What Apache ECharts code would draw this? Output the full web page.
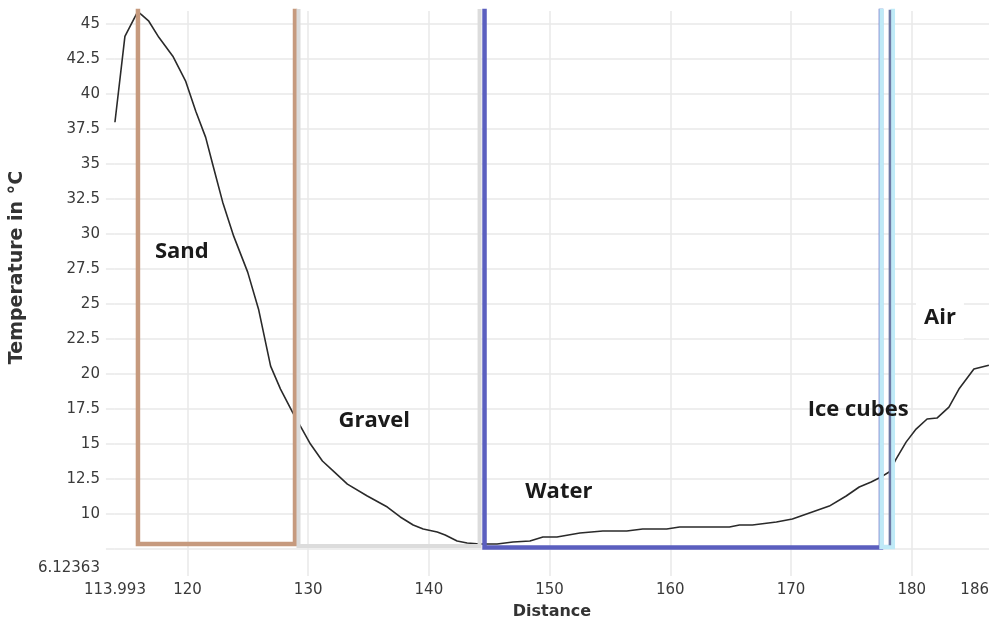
<!DOCTYPE html>
<html><head><meta charset="utf-8">
<script src="https://cdn.jsdelivr.net/npm/echarts@6/dist/echarts.min.js"></script>
<style>html,body{margin:0;padding:0;background:#fff}#c{width:992px;height:625px}</style>
</head><body><div id="c"></div>
<script>
// Temperature profile
const distance = [113.993,114.82,115.89,116.14,116.80,117.63,118.79,119.86,120.69,121.51,122.09,122.92,123.83,124.99,125.89,126.89,127.71,128.70,129.45,130.19,131.18,132.09,133.25,134.90,136.56,137.63,138.70,139.53,140.69,141.35,142.34,143.17,144.24,145.65,146.97,148.37,149.45,150.61,152.51,154.41,156.39,157.71,159.70,160.77,163.0,164.9,165.73,166.8,168.79,170.11,171.76,173.17,174.57,175.65,176.64,177.30,178.13,178.70,179.53,180.36,181.27,182.09,183.08,183.91,185.15,186.39];
const temperature = [37.98,44.12,45.91,45.7,45.2,44.05,42.7,40.9,38.77,36.9,34.98,32.27,29.84,27.27,24.62,20.55,18.91,17.27,16.12,14.98,13.77,13.05,12.12,11.27,10.48,9.77,9.2,8.91,8.70,8.48,8.05,7.91,7.84,7.84,7.98,8.05,8.34,8.34,8.62,8.77,8.77,8.91,8.91,9.05,9.05,9.05,9.2,9.2,9.41,9.62,10.12,10.55,11.27,11.91,12.27,12.55,12.98,13.91,15.12,16.05,16.77,16.84,17.62,18.91,20.34,20.62];

// Material regions
const regionNames = ['Sand','Gravel','Water','Ice cubes','Air'];
const regionStart = [115.9, 129.2, 144.61, 177.5, 178.19];
const regionEnd   = [128.91, 144.2, 177.45, 178.43, null];
const regionBase  = [7.84, 7.70, 7.59, 7.62, 7.75];
const regionColors = ['#c69a7e','#dcdcdc','#5b5fbf','#bfeaf7','#6f7aa6'];
const regionWidths = [4.5, 4, 4.5, 4.5, 2.5];

// Region labels
const labelX = [119.53, 135.48, 150.77, 175.56, 182.34];
const labelY = [28.7, 16.62, 11.55, 17.41, 23.98];

// Axes
const xMin = 113.993, xMax = 186.4;
const yMin = 6.12363, yMax = 45.93;
const xTickValues = [120,130,140,150,160,170,180];
const xLabelValues = [113.993,120,130,140,150,160,170,180,186.4];
const xLabelTexts = ['113.993','120','130','140','150','160','170','180','186'];
const yTickValues = [7.5,10,12.5,15,17.5,20,22.5,25,27.5,30,32.5,35,37.5,40,42.5,45];
const yLabelValues = [6.12363,10,12.5,15,17.5,20,22.5,25,27.5,30,32.5,35,37.5,40,42.5,45];
const yLabelTexts = ['6.12363','10','12.5','15','17.5','20','22.5','25','27.5','30','32.5','35','37.5','40','42.5','45'];

const gridColor = '#e9e9e9';
const chart = echarts.init(document.getElementById('c'), null, {renderer: 'canvas'});

const regionTop = yMax + 20;
const regionSeries = regionNames.map((n, i) => {
  const pts = [[regionStart[i], regionTop], [regionStart[i], regionBase[i]]];
  if (regionEnd[i] !== null) {
    pts.push([regionEnd[i], regionBase[i]]);
    pts.push([regionEnd[i], regionTop]);
  }
  return {
    type: 'line', name: n, data: pts, symbol: 'none', silent: true,
    lineStyle: {color: regionColors[i], width: regionWidths[i], cap: 'butt', join: 'miter'},
    z: 3 + i
  };
});

const labelData = regionNames.map((n, i) => ({
  name: n, value: [labelX[i], labelY[i]],
  label: n === 'Air' ? {backgroundColor: '#fff', padding: [10, 8]} : {}
}));

chart.setOption({
  animation: false,
  backgroundColor: '#fff',
  grid: {left: 114, right: 2, top: 11, bottom: 56, containLabel: false},
  xAxis: {
    type: 'value', min: xMin, max: xMax,
    name: 'Distance', nameLocation: 'middle', nameGap: 36,
    nameTextStyle: {fontFamily: 'DejaVu Sans', fontWeight: 'bold', fontSize: 16, color: '#333'},
    axisLine: {show: false},
    axisTick: {show: true, length: 8, customValues: xTickValues, lineStyle: {color: gridColor, width: 1.5}},
    axisLabel: {
      customValues: xLabelValues, margin: 15, alignMaxLabel: 'right',
      fontFamily: 'DejaVu Sans', fontSize: 15, color: '#3a3a3a',
      formatter: v => { const k = xLabelValues.indexOf(v); return k >= 0 ? xLabelTexts[k] : ''; }
    },
    splitLine: {show: true, lineStyle: {color: gridColor, width: 1.5}}
  },
  yAxis: {
    type: 'value', min: yMin, max: yMax,
    name: 'Temperature in °C', nameLocation: 'middle', nameGap: 85,
    nameTextStyle: {fontFamily: 'DejaVu Sans', fontWeight: 'bold', fontSize: 19, color: '#333', padding: [0, 0, 0, 44]},
    axisLine: {show: false},
    axisTick: {show: true, length: 9, customValues: yTickValues, lineStyle: {color: gridColor, width: 1.5}},
    axisLabel: {
      customValues: yLabelValues, margin: 15,
      fontFamily: 'DejaVu Sans', fontSize: 15, color: '#3a3a3a',
      formatter: v => { const k = yLabelValues.indexOf(v); return k >= 0 ? yLabelTexts[k] : ''; }
    },
    splitLine: {show: true, lineStyle: {color: gridColor, width: 1.5}}
  },
  series: [
    {
      type: 'line', name: 'Temperature', data: distance.map((d, i) => [d, temperature[i]]),
      symbol: 'none', smooth: false, z: 2,
      lineStyle: {color: '#2a2a2a', width: 1.6}
    },
    ...regionSeries,
    {
      type: 'scatter', name: 'labels', data: labelData, symbolSize: 0, z: 10, silent: true,
      itemStyle: {opacity: 1},
      label: {show: true, position: 'inside', formatter: '{b}', fontFamily: 'Open Sans', fontWeight: 'bold', fontSize: 22, color: '#1a1a1a', opacity: 1}
    }
  ]
});
</script></body></html>
